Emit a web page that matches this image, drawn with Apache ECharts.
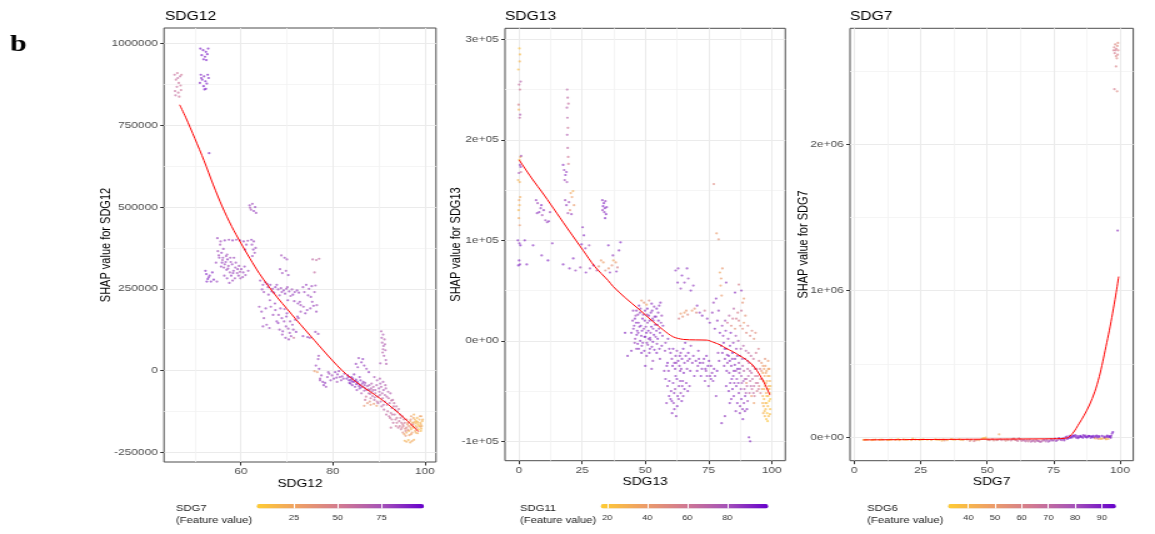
<!DOCTYPE html>
<html><head><meta charset="utf-8">
<script src="https://cdn.jsdelivr.net/npm/echarts@6/dist/echarts.min.js"></script>
<style>
html,body{margin:0;padding:0;background:#fff;overflow:hidden;width:1155px;height:534px}
#c{width:924px;height:534px;transform:scaleX(1.25);transform-origin:0 0}
</style>
</head><body><div id="c"></div>
<script>
// ---------------- DATA ----------------
// Panel 1: [SDG12, SHAP value for SDG12, SDG7 (feature value)]
const sdg12Points = [
[45.6,905000,58],[46.2,910000,55],[46.8,900000,60],[45.9,890000,57],[46.5,880000,56],[46.1,868000,59],[46.9,872000,54],[45.7,855000,58],[46.4,850000,57],[47.0,858000,55],[45.8,842000,60],[46.6,838000,56],[46.3,895000,62],[47.1,905000,53],
[51.2,985000,92],[51.8,980000,90],[52.4,975000,93],[52.9,985000,91],[51.5,965000,94],[52.2,960000,89],[52.7,968000,92],[51.9,952000,90],[52.5,950000,93],[51.3,905000,91],[52.0,900000,88],[52.8,905000,92],[51.6,890000,90],[52.3,885000,94],[51.1,880000,89],[52.6,878000,91],[51.9,870000,93],[52.4,862000,90],[52.1,860000,92],[51.4,895000,87],[53.0,895000,90],
[53.1,665000,88],
[61.9,505000,80],[62.5,510000,78],[63.1,500000,82],[62.2,492000,76],[62.8,488000,84],[63.3,482000,79],[62.0,498000,75],
[52.3,305000,88],[52.5,295000,90],[53.2,290000,86],[53.8,300000,89],[52.8,280000,91],[53.5,272000,87],[52.6,272000,90],[54.1,278000,88],[53.0,285000,85],
[54.9,405000,80],[55.6,395000,78],[56.5,398000,82],[57.4,400000,79],[58.2,398000,83],[59.0,400000,77],[59.8,398000,81],[60.6,395000,80],[61.5,397000,78],[62.3,400000,82],[62.8,395000,79],
[55.5,385000,76],[56.2,372000,80],[55.8,360000,82],[56.8,350000,78],[55.3,345000,81],[56.0,338000,75],[57.1,340000,83],[57.8,332000,79],[56.5,325000,80],[57.3,320000,77],[58.1,325000,82],[58.8,315000,79],[56.9,308000,81],[57.6,300000,76],[58.4,305000,80],[59.2,298000,78],[57.9,290000,83],[58.7,282000,77],[59.5,290000,81],[58.2,275000,79],[60.1,310000,80],[60.8,318000,82],[59.6,320000,78],[55.9,330000,84],[57.0,355000,76],[58.5,345000,80],[59.8,302000,74],[60.4,286000,79],[57.5,268000,81],[56.3,315000,77],
[54.6,330000,80],[55.2,352000,78],[55.7,318000,82],[56.1,345000,79],[56.7,332000,81],[57.2,312000,80],[57.7,345000,78],[58.3,298000,82],[58.9,330000,79],[59.3,310000,80],[59.9,282000,77],[60.5,300000,81],[61.0,292000,79],[56.4,290000,80],[57.0,282000,83],[55.0,365000,76],[61.2,385000,80],[60.9,370000,82],[54.8,272000,80],[61.6,305000,78],
[62.4,385000,80],[62.7,370000,83],[63.0,360000,78],[62.5,350000,81],[63.2,375000,79],
[64.2,275000,80],[64.8,262000,78],[65.3,270000,82],[65.9,255000,79],[66.4,262000,81],[66.9,250000,77],[67.5,255000,83],[68.1,248000,80],[68.7,252000,78],[69.3,245000,82],[69.9,250000,79],[70.5,242000,81],[71.1,248000,77],[71.7,240000,80],[72.2,245000,83],[65.0,240000,78],[66.0,232000,80],[67.2,238000,82],[68.4,230000,79],[69.6,235000,81],[70.8,228000,77],[71.6,212000,80],[72.4,205000,82],[73.0,200000,78],[70.2,215000,84],[69.0,298000,80],[69.8,305000,78],[70.3,292000,82],[68.5,310000,79],
[64.6,248000,80],[65.7,265000,82],[66.7,242000,79],[67.8,262000,81],[68.9,240000,80],[70.1,255000,78],[71.3,232000,82],[72.6,238000,80],[66.3,215000,79],[67.4,205000,81],[68.6,190000,80],[69.9,165000,82],[70.7,150000,78],[71.4,125000,80],[72.0,118000,83],[67.0,170000,80],[68.4,125000,79],[69.7,100000,81],[70.4,95000,80],[73.8,240000,79],[74.6,230000,81],[75.2,225000,80],[76.2,260000,78],
[69.5,345000,80],[70.0,340000,78],[68.8,352000,76],
[73.5,255000,80],[74.2,262000,82],[74.8,250000,79],[75.4,258000,81],[76.0,240000,78],[72.8,210000,80],[73.6,195000,77],[74.4,185000,82],[75.1,190000,79],[75.8,198000,81],[76.4,180000,80],[73.0,180000,78],[74.0,175000,83],[75.5,210000,80],[76.5,200000,76],[73.5,105000,82],[74.5,102000,80],[75.0,100000,78],[76.2,118000,81],[76.8,112000,79],
[75.6,340000,62],[76.4,338000,60],[77.0,342000,63],[76.0,300000,60],
[66.5,195000,80],[67.5,185000,82],[68.2,170000,78],[68.9,160000,81],[69.4,150000,79],[68.1,145000,83],[69.8,135000,80],[70.3,128000,77],[69.1,120000,82],[70.6,115000,79],[71.2,140000,81],[71.8,155000,78],[72.3,165000,80],[70.0,175000,83],[69.0,110000,80],[70.9,105000,78],[71.5,100000,55],[72.5,160000,80],[67.8,150000,82],[69.5,188000,76],
[64.0,195000,78],[64.5,180000,80],[65.4,190000,82],[64.8,135000,80],[65.6,140000,79],[66.2,130000,81],[65.0,160000,77],
[76.0,-2000,30],[76.6,-5000,28],[76.3,15000,80],[77.0,5000,82],[77.5,-15000,80],[77.2,-25000,78],[78.0,-45000,82],[78.5,-50000,79],[77.8,-35000,81],[79.2,-10000,80],[79.8,-15000,78],[80.5,-5000,82],[81.0,-12000,80],[81.5,-20000,79],[80.2,-25000,81],[82.0,-18000,80],[82.5,-10000,78],[79.5,-30000,83],[78.8,-20000,80],[76.8,35000,80],[76.9,45000,78],[81.8,-30000,80],[80.9,-35000,76],
[77.2,-30000,80],[78.3,-38000,82],[79.0,-5000,79],[80.8,-22000,81],[81.3,-2000,80],[82.3,-25000,78],
[85.0,20000,82],[85.6,38000,80],[86.2,25000,83],[86.8,15000,81],[87.3,5000,79],[85.4,10000,80],[87.8,-5000,82],[86.5,35000,85],
[83.0,-25000,85],[83.5,-30000,88],[84.0,-20000,86],[84.5,-35000,90],[85.0,-28000,87],[85.5,-40000,84],[86.0,-45000,80],[86.5,-50000,75],[87.0,-55000,70],[87.5,-48000,72],[88.0,-60000,68],[88.5,-65000,70],[83.8,-40000,86],[84.8,-50000,82],[85.8,-55000,78],[86.8,-62000,72],[87.8,-70000,65],[88.6,-78000,62],[86.2,-70000,70],[87.2,-80000,55],[88.2,-85000,60],[89.0,-90000,64],[85.2,-60000,80],[84.2,-45000,84],[88.8,-50000,66],[87.0,-38000,78],[86.0,-30000,82],[87.5,-100000,35],[88.2,-105000,30],[88.9,-102000,32],[89.5,-108000,28],[86.8,-108000,33],[83.2,-15000,88],[84.6,-12000,85],[85.8,-20000,82],[88.4,-40000,70],[89.2,-70000,62],[89.8,-80000,60],
[83.4,-20000,86],[83.9,-28000,88],[84.3,-24000,85],[84.9,-32000,87],[85.3,-35000,84],[85.7,-48000,82],[86.1,-52000,78],[86.4,-40000,80],[86.9,-45000,76],[87.3,-60000,72],[87.7,-58000,70],[88.1,-72000,66],[88.7,-60000,64],[85.1,-42000,86],[84.1,-33000,88],[83.6,-38000,87],[86.6,-35000,82],[87.9,-45000,74],[88.3,-55000,68],[89.1,-82000,62],[89.6,-95000,60],[88.0,-95000,40],[87.0,-90000,58],
[89.0,-20000,75],[89.6,-30000,72],[90.2,-25000,70],[90.9,-35000,72],[91.4,-45000,68],
[90.5,120000,70],[90.9,110000,72],[91.2,95000,68],[90.7,85000,70],[91.0,75000,73],[91.4,62000,70],[90.8,55000,67],[91.1,45000,71],[90.3,22000,74],[91.6,20000,70],
[90.6,100000,72],[91.3,80000,70],[90.9,65000,68],[91.5,32000,72],
[89.5,-45000,70],[90.0,-55000,72],[90.5,-50000,68],[91.0,-60000,74],[91.5,-55000,70],[92.0,-65000,66],[92.5,-70000,70],[90.2,-75000,68],[90.8,-85000,64],[91.3,-95000,66],[91.8,-105000,62],[92.3,-100000,68],[92.8,-115000,64],[93.2,-110000,60],[89.8,-100000,66],[90.6,-110000,62],[91.1,-120000,64],[91.9,-125000,60],[92.6,-130000,58],[93.0,-90000,62],[89.2,-60000,72],[90.3,-40000,74],
[90.1,-65000,70],[90.7,-70000,68],[91.3,-75000,66],[91.7,-80000,68],[92.1,-85000,64],[92.7,-92000,62],[93.3,-100000,60],[93.8,-110000,58],[94.3,-118000,60],[94.7,-145000,56],[95.2,-165000,52],[93.6,-150000,58],[92.9,-135000,60],[93.9,-160000,56],[94.5,-170000,54],[95.0,-175000,50],[91.6,-135000,62],[92.4,-145000,58],[90.4,-95000,66],[91.0,-105000,64],
[92.2,-140000,60],[92.8,-150000,58],[93.4,-135000,62],[93.9,-145000,56],[94.4,-155000,58],[94.9,-160000,54],[95.4,-150000,56],[93.1,-160000,60],[93.7,-170000,55],[94.2,-175000,57],[94.8,-180000,52],[95.3,-170000,50],[95.8,-185000,48],[93.5,-120000,62],[94.0,-125000,60],[94.6,-135000,58],[95.1,-140000,55],[95.6,-160000,52],[92.6,-175000,58],[96.0,-175000,46],
[95.5,-195000,25],[96.0,-190000,22],[96.5,-185000,18],[97.0,-180000,20],[97.5,-175000,15],[98.0,-170000,18],[98.5,-165000,12],[99.0,-160000,15],[99.3,-170000,20],[96.2,-165000,30],[96.8,-155000,25],[97.3,-160000,22],[97.8,-150000,18],[98.3,-145000,15],[98.8,-150000,20],[99.2,-140000,25],[97.0,-140000,28],[97.6,-135000,20],[98.1,-155000,12],[98.6,-180000,10],[99.1,-185000,14],[96.5,-170000,35],[97.2,-190000,30],[97.9,-185000,24],[95.2,-190000,40],[95.8,-200000,35],[96.6,-198000,28],[98.4,-192000,22],[99.4,-155000,18],[96.0,-150000,40],[97.4,-165000,45],[98.2,-175000,38],[99.0,-172000,30],[95.7,-178000,42],
[96.3,-160000,35],[96.9,-175000,25],[97.1,-168000,30],[97.7,-158000,22],[98.0,-162000,15],[98.4,-158000,18],[98.7,-170000,12],[99.1,-165000,22],[99.5,-150000,20],[97.5,-145000,25],[98.9,-140000,28],[96.3,-182000,38],[97.0,-195000,28],[98.0,-190000,20],[99.2,-178000,16],[96.9,-150000,40],
[95.6,-215000,18],[96.0,-218000,22],[96.4,-213000,15],[96.8,-220000,20],[97.2,-216000,25],[97.6,-212000,18]
];
const sdg12Smooth = [[46.7,813000],[48,775000],[50,710000],[52,642000],[54,568000],[56,500000],[58,441000],[60,390000],[62,342000],[64,297000],[66,258000],[68,222000],[70,189000],[72,156000],[74,124000],[76,92000],[78,60000],[80,29000],[82,0],[84,-24000],[86,-45000],[88,-64000],[90,-83000],[92,-104000],[94,-127000],[96,-152000],[98.6,-187000]];

// Panel 2: [SDG13, SHAP value for SDG13, SDG11 (feature value)]
const sdg13Points = [
[0.2,291000,22],[0.4,285000,25],[0.3,278000,28],[-0.2,270000,24],[0.1,255000,65],[0.7,258000,72],[0.4,250000,60],[-0.1,235000,55],[0.0,230000,30],[0.5,225000,75],[0.3,222000,68],[0.6,183000,35],[0.9,184000,80],[0.2,180000,25],[0.4,175000,85],[0.7,173000,88],[0.0,167000,80],[0.8,168000,60],[-0.3,160000,28],[0.3,158000,30],[0.5,143000,32],[0.1,140000,35],[0.2,135000,30],[-0.1,130000,27],[0.0,122000,33],[0.3,115000,40],[-0.4,100000,90],[0.2,97000,88],[0.6,95000,92],[0.1,80000,90],[0.4,76000,88],[-0.2,75000,93],
[2.3,100000,90],
[6.8,140000,85],[7.4,137000,82],[8.0,128000,88],[8.6,132000,84],[7.2,127000,86],[9.2,125000,80],[9.8,130000,87],[10.5,120000,83],[11.2,118000,85],[11.8,119000,88],[8.9,135000,90],[12.3,128000,82],
[3.1,76000,90],[9.0,85000,88],[11.5,80000,92],[13.2,97000,88],[5.6,95000,90],
[19.1,250000,70],[19.3,242000,68],[19.0,232000,72],[19.6,236000,65],[19.2,222000,70],[19.4,212000,62],[19.1,205000,75],[19.3,192000,68],[19.5,183000,60],[19.6,176000,55],[17.5,175000,88],[17.9,170000,85],[18.4,165000,90],[18.8,168000,87],[18.1,160000,82],[19.0,158000,80],
[18.3,140000,82],[18.8,135000,85],[19.8,138000,80],[20.5,147000,35],[21.4,149000,30],[21.0,143000,38],[19.4,127000,78],[20.2,130000,45],[21.8,135000,40],[20.8,126000,85],
[25.2,113000,88],[25.7,105000,90],[24.8,96000,92],[26.3,92000,85],[27.8,95000,80],
[33.0,140000,88],[33.6,137000,90],[34.2,139000,86],[33.3,134000,92],[34.0,132000,89],[33.8,128000,87],[34.5,126000,90],[33.1,130000,85],[34.7,133000,88],[34.1,122000,91],
[17.5,76000,90],[20.0,72000,88],[22.4,70000,85],[24.3,73000,82],[26.5,68000,88],[28.1,72000,80],[29.5,75000,85],[30.8,70000,75],[31.6,74000,45],[32.5,80000,40],[33.4,78000,38],[34.2,70000,50],[35.5,72000,42],[36.8,75000,45],[37.4,80000,35],[38.3,78000,40],[39.0,73000,55],[36.0,68000,85],[38.6,69000,88],[21.5,82000,90],[40.2,98000,92],[39.6,90000,88],[37.2,85000,86],[35.4,95000,90],
[45.0,20000,85],[45.6,15000,88],[46.2,25000,82],[46.8,10000,90],[47.3,18000,86],[47.9,28000,84],[48.4,5000,88],[48.9,22000,91],[49.4,12000,85],[49.9,30000,87],[50.4,8000,90],[50.9,18000,83],[51.4,25000,88],[51.9,3000,86],[52.4,14000,92],[52.9,22000,84],[53.4,6000,89],[53.9,16000,85],[54.4,10000,88],[54.9,2000,90],[55.4,12000,86],[46.0,2000,84],[47.0,-3000,88],[48.0,0,90],[49.0,-2000,86],[50.0,4000,92],[51.0,-4000,85],[52.0,1000,88],[53.0,-1000,90],[46.5,30000,86],[47.5,35000,88],[48.5,40000,40],[49.5,38000,45],[50.5,36000,35],[51.5,40000,50],[52.5,37000,88],[53.5,34000,85],[54.5,32000,90],[55.5,35000,86],[56.0,38000,88],[56.5,25000,84],[57.0,15000,89],[44.5,8000,88],[45.2,30000,85],[48.2,15000,92],[49.8,20000,88],[50.7,26000,84],[51.2,10000,91],[52.2,28000,87],[53.2,20000,83],[54.2,24000,88],[55.2,20000,90],[47.2,8000,86],[46.4,18000,90],[45.8,-2000,84],[43.0,-15000,88],[42.0,8000,90],
[45.3,12000,86],[45.9,22000,88],[46.6,6000,90],[47.1,26000,85],[47.7,14000,88],[48.1,32000,84],[48.7,10000,90],[49.2,26000,86],[49.7,4000,88],[50.2,14000,85],[50.8,32000,90],[51.3,2000,86],[51.7,20000,88],[52.1,8000,84],[52.7,30000,90],[53.1,12000,86],[53.7,24000,88],[54.1,4000,85],[54.7,16000,90],[55.1,28000,86],[55.8,8000,88],[56.2,18000,84],[47.4,-8000,88],[48.6,-5000,86],[49.6,-10000,90],[50.6,-2000,85],[51.6,-12000,88],[52.6,-6000,86],[53.6,-9000,90],[54.6,-3000,85],[55.6,-8000,88],[56.8,5000,86],
[44.5,-10000,88],[46.5,-8000,85],[48.5,-12000,90],[50.5,-15000,86],[51.8,-8000,88],[53.0,-20000,84],[54.5,-12000,90],[55.8,-18000,86],[56.5,-5000,88],[57.8,-10000,85],[58.8,-22000,90],[59.5,-8000,87],[50.0,-25000,89],[52.5,-28000,85],
[60.0,-12000,88],[60.5,-18000,85],[61.0,-8000,90],[61.5,-22000,86],[62.0,-15000,88],[62.5,-10000,84],[63.0,-20000,90],[63.5,-25000,87],[64.0,-12000,85],[64.5,-18000,88],[65.0,-8000,91],[65.5,-22000,86],[66.0,-15000,88],[66.5,-28000,84],[67.0,-12000,90],[67.5,-18000,87],[68.0,-5000,85],[61.8,-28000,88],[63.8,-30000,86],[65.8,-2000,90],[59.0,2000,88],[58.0,-2000,85],
[58.5,-25000,88],[59.2,-30000,86],[60.8,-25000,90],[62.2,-22000,85],[63.6,-15000,88],[64.2,-28000,86],[65.2,-32000,90],[66.8,-20000,85],[67.8,-30000,88],[68.6,-22000,86],[69.4,-35000,90],[61.4,-52000,86],[62.8,-55000,88],[63.8,-40000,85],[64.4,-60000,90],[65.0,-55000,86],[66.8,-50000,88],[67.5,-45000,85],[59.4,-55000,88],[58.4,-62000,86],[61.5,-68000,88],[62.6,-65000,90],[63.2,-58000,85],[64.6,-45000,86],[60.6,-72000,88],[62.2,-75000,86],
[62.0,70000,88],[63.0,72000,86],[64.5,65000,90],[65.5,58000,85],[66.5,72000,88],[67.0,62000,84],[68.0,50000,90],[69.0,55000,86],[62.8,58000,88],[64.0,52000,85],
[64.0,27000,40],[64.8,24000,45],[65.5,28000,38],[66.2,30000,42],[66.8,26000,50],[63.3,22000,55],
[58.0,-38000,88],[58.8,-45000,85],[59.5,-40000,90],[60.2,-50000,86],[61.0,-42000,88],[61.8,-48000,84],[62.5,-38000,90],[63.3,-45000,87],[64.0,-52000,85],[64.8,-40000,88],[65.5,-48000,90],[66.2,-42000,86],[60.5,-60000,88],[61.2,-62000,85],[60.0,-58000,90],[57.5,-30000,86],[62.0,-35000,88],
[70.0,-20000,88],[70.8,-25000,85],[71.6,-22000,90],[72.4,-28000,86],[73.2,-18000,88],[74.0,-30000,84],[74.8,-25000,90],[75.6,-35000,87],[76.4,-32000,85],[77.2,-28000,88],[73.6,-40000,86],[76.0,-38000,89],[71.0,-10000,88],[69.0,-15000,86],
[70.5,-30000,88],[71.2,-18000,86],[72.0,-35000,90],[72.8,-22000,85],[73.8,-28000,88],[74.4,-35000,86],[75.2,-20000,90],[76.0,-25000,85],[76.8,-40000,88],[77.6,-35000,86],[78.4,-30000,90],[78.8,-12000,85],[79.2,-20000,88],[75.0,-45000,86],[74.2,-15000,88],[78.0,-55000,86],
[70.5,35000,88],[71.5,28000,85],[72.5,25000,90],[73.5,30000,60],[74.5,22000,86],[75.5,18000,88],[76.5,28000,85],[77.5,12000,90],[78.5,20000,86],[79.5,8000,88],[77.0,38000,84],[78.0,42000,88],[68.5,30000,40],[69.5,32000,45],[70.2,28000,50],[79.0,30000,85],
[79.5,68000,35],[80.0,62000,40],[79.8,55000,38],[78.2,107000,40],[79.0,101000,45],[77.1,156000,50],[80.5,72000,42],[80.2,45000,40],
[87.0,56000,55],[88.5,38000,45],[89.0,42000,40],[88.0,50000,85],[85.5,48000,88],[82.0,58000,86],
[80.4,15000,85],[81.6,20000,80],[83.2,25000,70],[84.6,22000,60],[86.6,28000,55],[87.6,15000,50],[89.6,25000,45],[90.6,15000,55],[92.2,10000,50],[93.6,8000,48],[88.0,30000,62],[85.0,32000,70],
[80.0,-5000,88],[80.5,-12000,86],[81.0,-2000,90],[81.5,-18000,85],[82.0,-8000,88],[82.5,-22000,84],[83.0,-15000,90],[83.5,-5000,87],[84.0,-25000,85],[84.5,-12000,89],[85.0,-30000,86],[85.5,-18000,88],[86.0,-8000,84],[86.5,-28000,90],[87.0,-22000,82],[87.5,-15000,78],[88.0,-35000,80],[88.5,-25000,75],[89.0,-30000,72],[89.5,-18000,70],[90.0,-38000,74],[90.5,-28000,68],[91.0,-22000,70],[91.5,-40000,66],[92.0,-32000,68],[92.5,-25000,64],[93.0,-45000,66],[93.5,-35000,62],[94.0,-28000,60],[94.5,-42000,62],[95.0,-20000,55],[95.5,-38000,50],[96.0,-30000,45],
[81.2,-25000,86],[82.2,-30000,88],[83.2,-32000,85],[84.2,-38000,90],[85.2,-42000,86],[86.2,-38000,84],[87.2,-32000,82],[88.2,-42000,78],[89.2,-48000,74],[90.2,-45000,70],[91.2,-52000,66],[92.2,-48000,64],[93.2,-55000,62],[94.2,-50000,58],
[81.4,-8000,88],[82.4,-14000,86],[83.4,-20000,90],[84.4,-18000,85],[85.4,-24000,88],[86.4,-15000,86],[87.4,-28000,84],[88.4,-18000,80],[89.4,-38000,76],[90.4,-20000,72],[91.4,-30000,70],[92.4,-38000,68],[93.4,-28000,66],[94.4,-35000,62],[95.4,-28000,58],[96.2,-38000,50],
[83.6,-42000,88],[84.8,-35000,86],[85.8,-30000,84],[86.8,-42000,86],[87.8,-48000,82],[88.8,-40000,80],[89.8,-52000,76],[90.8,-35000,72],[91.8,-45000,70],[92.8,-52000,66],[93.8,-42000,64],[94.8,-48000,60],[95.6,-52000,55],[95.0,-45000,52],
[82.0,-45000,88],[83.0,-50000,90],[84.0,-58000,86],[86.4,-62000,88],[87.4,-72000,85],[88.6,-78000,90],[89.4,-70000,86],[90.2,-68000,88],[85.8,-70000,86],[83.4,-62000,88],
[80.8,5000,86],[81.8,10000,88],[82.8,2000,84],[83.8,8000,90],[84.8,-2000,86],[85.8,5000,80],[86.8,0,78],[87.8,-8000,76],[88.8,-5000,72],[89.8,-10000,70],[90.8,-12000,68],[91.8,-15000,66],[92.8,-18000,62],[93.8,-12000,60],[94.8,-8000,55],
[82.5,18000,60],[84.0,15000,50],[85.5,12000,45],[87.0,20000,55],[88.5,12000,48],[90.0,8000,50],[91.5,5000,52],[93.0,2000,45],[89.0,18000,40],[86.0,22000,58],
[86.0,-45000,88],[87.0,-52000,86],[88.0,-58000,90],[89.0,-62000,85],[85.0,-55000,88],[87.5,-65000,84],[88.5,-68000,86],[89.5,-55000,88],[90.5,-60000,82],[84.5,-48000,90],
[91.0,-96000,88],[91.5,-100000,90],[80.2,-82000,88],[81.5,-75000,85],[90.0,-42000,45],[92.0,-55000,40],[93.0,-62000,38],
[96.5,-32000,35],[97.0,-28000,38],[97.5,-25000,40],[98.0,-30000,35],[98.5,-35000,32],[99.0,-28000,38],[99.3,-40000,30],[96.8,-40000,32],[97.3,-45000,35],[97.8,-42000,28],[98.3,-48000,30],[98.8,-45000,32],[99.2,-52000,28],[96.5,-55000,30],[97.0,-58000,25],[97.5,-62000,28],[98.0,-55000,22],[98.5,-65000,25],[99.0,-60000,20],[99.4,-68000,22],[97.2,-70000,25],[98.2,-72000,20],[98.8,-75000,24],[96.8,-65000,28],[97.8,-52000,30],[99.5,-45000,26],[96.2,-48000,36],[96.0,-22000,42],[97.4,-18000,45],[98.6,-20000,40],
[96.6,-25000,40],[97.2,-35000,35],[97.7,-32000,38],[98.2,-40000,32],[98.7,-28000,36],[99.1,-35000,30],[96.4,-62000,28],[97.0,-48000,30],[97.6,-68000,24],[98.1,-62000,22],[98.6,-55000,26],[99.1,-48000,24],[99.4,-58000,20],[97.9,-78000,22],[98.4,-80000,20],[97.3,-75000,26],[96.7,-72000,30],[99.3,-73000,24]
];
const sdg13Smooth = [[0.1,180000],[5,162000],[10,145000],[15,127000],[20,109000],[25.4,90000],[30,74000],[35.3,60000],[37.3,54000],[42,43000],[47.9,30500],[53.1,19000],[57,11000],[61,4000],[65,1400],[70,900],[74.3,700],[77,-1500],[79.6,-4000],[82,-7500],[84.8,-11000],[87.5,-15000],[90.1,-19000],[92.8,-25000],[95.3,-34000],[97.5,-44000],[99.3,-54000]];

// Panel 3: [SDG7, SHAP value for SDG7, SDG6 (feature value)]
const sdg7Points = [
[97.8,2660000,60],[98.2,2680000,58],[98.6,2650000,62],[99.0,2670000,57],[99.3,2640000,60],[98.0,2620000,63],[98.5,2600000,59],[99.1,2610000,61],[98.8,2585000,58],[97.6,2640000,62],[98.3,2640000,64],[99.2,2690000,56],[98.5,2530000,60],[97.9,2375000,62],[98.9,2360000,58],[99.1,1410000,85],
[3.5,-18000,38],[5.0,-17000,40],[6.5,-19000,36],[8.0,-16000,42],[9.5,-18000,38],[11.0,-17000,45],[12.5,-19000,40],[14.0,-16000,37],[15.5,-18000,43],[17.0,-20000,39],[18.5,-15000,41],[20.0,-17000,36],[21.5,-19000,44],[23.0,-16000,38],[24.5,-18000,42],[26.0,-14000,40],[27.5,-17000,37],[29.0,-19000,45],[30.5,-15000,39],[32.0,-18000,41],[33.5,-16000,36],[35.0,-20000,43],[36.5,-13000,38],[38.0,-17000,42],[39.5,-15000,40],[41.0,-19000,47],[42.5,-16000,52],[44.0,-18000,50],[45.5,-22000,55],[47.0,-20000,48],[48.5,-5000,35],[49.0,-8000,38],[49.5,-3000,40],[48.0,-12000,42],[16.5,-12000,36],[22.0,-10000,40],[33.0,-24000,45],[34.0,-22000,55],[43.5,-25000,60],[45.0,-26000,62],
[4.2,-17500,40],[7.2,-18500,38],[10.2,-16500,42],[13.2,-18000,36],[19.2,-17000,40],[25.2,-16000,38],[31.2,-17000,42],[37.2,-16000,40],[40.2,-18000,44],[46.2,-19000,52],
[50.5,-18000,58],[52.0,-15000,62],[53.5,-20000,60],[54.5,20000,45],[55.0,-14000,65],[56.5,-17000,63],[58.0,-19000,60],[59.5,-15000,66],[61.0,-20000,64],[62.5,-16000,68],[63.0,-25000,70],[64.0,-22000,72],[65.5,-28000,66],[66.0,-18000,70],[67.0,-25000,74],[68.0,-30000,72],[68.5,-20000,68],[69.5,-27000,75],[70.0,-32000,73],[71.0,-22000,70],[72.0,-28000,76],[72.5,-18000,78],[73.5,-25000,80],[74.0,-15000,82],[75.0,-22000,78],[75.5,-10000,85],[76.5,-18000,80],[77.0,-5000,88],[78.0,-20000,82],[78.5,-8000,86],[79.0,-15000,84],[79.5,0,88],[60.0,-10000,62],[57.0,-24000,58],[62.0,-8000,66],
[50.0,-16000,55],[51.0,-20000,60],[52.5,-22000,58],[54.0,-18000,62],[55.5,-20000,64],[57.5,-16000,60],[59.0,-22000,66],[60.5,-18000,62],[61.5,-25000,68],[63.5,-18000,70],[64.5,-28000,72],[65.0,-20000,68],[66.5,-30000,74],[67.5,-22000,72],[69.0,-25000,76],[70.5,-28000,75],[71.5,-18000,78],[73.0,-30000,80],[74.5,-22000,82],[76.0,-25000,84],[77.5,-15000,86],[79.0,-22000,85],
[80.0,5000,88],[80.5,-5000,90],[81.0,10000,86],[81.5,2000,92],[82.0,-2000,88],[82.5,12000,90],[83.0,5000,93],[83.5,-3000,87],[84.0,8000,91],[84.5,0,89],[85.0,10000,92],[85.5,3000,88],[86.0,-4000,90],[86.5,6000,93],[87.0,12000,87],[87.5,-2000,91],[88.0,4000,89],[88.5,8000,92],[89.0,-5000,88],[89.5,2000,90],[90.0,10000,93],[90.5,0,87],[91.0,6000,91],[91.5,-3000,89],[92.0,8000,92],[92.5,-10000,45],[93.0,-12000,40],[93.5,-8000,42],[94.0,4000,90],[94.5,-2000,88],[95.0,6000,92],[95.5,0,90],[96.0,8000,91],[96.5,-4000,88],[97.0,25000,90],[97.3,35000,92],[91.8,-12000,50],[94.8,-14000,44],
[80.2,-12000,88],[81.2,-5000,90],[82.2,8000,92],[83.2,14000,88],[84.2,-6000,90],[85.2,4000,92],[86.2,14000,88],[87.2,2000,91],[88.2,10000,90],[89.2,6000,92],[90.2,-2000,88],[91.2,12000,90],[92.2,2000,89],[93.2,10000,92],[94.2,-4000,88],[95.2,12000,90],[96.2,2000,92],[96.7,10000,88],[90.7,-8000,45],[94.6,-10000,40],[95.6,-12000,42]
];
const sdg7Smooth = [[3.4,-18000],[20,-16000],[40,-14000],[60,-12000],[75,-10000],[80,-5000],[82.2,27000],[84.7,96000],[86.5,150000],[88.5,220000],[90.5,310000],[92.2,414000],[93.5,515000],[94.7,618000],[96,730000],[97.2,846000],[98.4,970000],[99.5,1096000]];

// Axis ticks
const sdg12XTicks = [60, 80, 100];
const sdg12XMinor = [50, 70, 90];
const sdg12YTicks = [-250000, 0, 250000, 500000, 750000, 1000000];
const sdg12YMinor = [-125000, 125000, 375000, 625000, 875000];
const sdg13XTicks = [0, 25, 50, 75, 100];
const sdg13XMinor = [12.5, 37.5, 62.5, 87.5];
const sdg13YTicks = [-100000, 0, 100000, 200000, 300000];
const sdg13YMinor = [-50000, 50000, 150000, 250000];
const sdg7XTicks = [0, 25, 50, 75, 100];
const sdg7XMinor = [12.5, 37.5, 62.5, 87.5];
const sdg7YTicks = [0, 1000000, 2000000];
const sdg7YMinor = [500000, 1500000, 2500000];

// Colour (feature value) ranges and legend ticks
const sdg7FeatureRange = [3.7, 99.3];
const sdg7LegendTicks = [25, 50, 75];
const sdg11FeatureRange = [16.7, 100.5];
const sdg11LegendTicks = [20, 40, 60, 80];
const sdg6FeatureRange = [32.4, 95.3];
const sdg6LegendTicks = [40, 50, 60, 70, 80, 90];

// ---------------- CHART ----------------
const S = 1.25;               // horizontal stretch of the reference
const X = v => v / S;         // reference x pixel -> css pixel
const FONT = '"Liberation Sans", Arial, sans-serif';
const COLORS = ['#FFCC33', '#EE9F66', '#D27A92', '#A653B8', '#6600CC'];
const plainFmt = v => String(Math.round(v));
const sciFmt = v => {
  if (v === 0) return '0e+00';
  const e = Math.floor(Math.log10(Math.abs(v)));
  const m = Math.round(v / Math.pow(10, e));
  return m + 'e+' + String(e).padStart(2, '0');
};

const panels = [
  {title:'SDG12', xName:'SDG12', yName:'SHAP value for SDG12', legend:'SDG7\n(Feature value)',
   pts:sdg12Points, smooth:sdg12Smooth, xRange:[43.3,102.4], yRange:[-280000,1048000],
   xT:sdg12XTicks, xM:sdg12XMinor, yT:sdg12YTicks, yM:sdg12YMinor, yFmt:plainFmt,
   cR:sdg7FeatureRange, cT:sdg7LegendTicks,
   box:{l:164,r:436,t:28,b:462}, yGap:40.5, titleX:165, legX:176, cb:{l:256.7,r:424}},
  {title:'SDG13', xName:'SDG13', yName:'SHAP value for SDG13', legend:'SDG11\n(Feature value)',
   pts:sdg13Points, smooth:sdg13Smooth, xRange:[-5.5,105.4], yRange:[-119300,311000],
   xT:sdg13XTicks, xM:sdg13XMinor, yT:sdg13YTicks, yM:sdg13YMinor, yFmt:sciFmt,
   cR:sdg11FeatureRange, cT:sdg11LegendTicks,
   box:{l:505,r:785.3,t:28.3,b:460.7}, yGap:34, titleX:505, legX:520, cb:{l:600.7,r:768.3}},
  {title:'SDG7', xName:'SDG7', yName:'SHAP value for SDG7', legend:'SDG6\n(Feature value)',
   pts:sdg7Points, smooth:sdg7Smooth, xRange:[-1.6,105], yRange:[-160000,2790000],
   xT:sdg7XTicks, xM:sdg7XMinor, yT:sdg7YTicks, yM:sdg7YMinor, yFmt:sciFmt,
   cR:sdg6FeatureRange, cT:sdg6LegendTicks,
   box:{l:850,r:1133.3,t:28.3,b:460.7}, yGap:31.5, titleX:850, legX:867.3, cb:{l:948,r:1116}}
];

const option = {
  animation:false, backgroundColor:'#fff', textStyle:{fontFamily:FONT},
  title:[], grid:[], xAxis:[], yAxis:[], series:[], visualMap:[]
};
option.title.push({text:'b', left:X(10), top:33, padding:0,
  textStyle:{fontFamily:'"Liberation Serif","DejaVu Serif",serif', fontWeight:'bold', fontSize:24, color:'#000'}});

panels.forEach((p, i) => {
  option.title.push({text:p.title, left:X(p.titleX), top:10, padding:0,
    textStyle:{fontFamily:FONT, fontSize:12.5, fontWeight:'normal', color:'#000'}});
  option.title.push({text:p.legend, left:X(p.legX), top:503, padding:0,
    textStyle:{fontFamily:FONT, fontSize:9, lineHeight:12, fontWeight:'normal', color:'#222'}});
  option.grid.push({left:X(p.box.l), top:p.box.t, width:X(p.box.r - p.box.l), height:p.box.b - p.box.t,
    show:true, backgroundColor:'#fff', borderColor:'#4d4d4d', borderWidth:1});
  // major x
  option.xAxis.push({type:'value', gridIndex:i, min:p.xRange[0], max:p.xRange[1], position:'bottom',
    name:p.xName, nameLocation:'middle', nameGap:16, nameMoveOverlap:false,
    nameTextStyle:{fontFamily:FONT, fontSize:11, color:'#000'},
    axisLine:{show:false, onZero:false},
    axisTick:{show:true, length:3.5, customValues:p.xT, lineStyle:{color:'#333'}},
    axisLabel:{customValues:p.xT, fontSize:9.5, color:'#4D4D4D', margin:4.5, fontFamily:FONT},
    splitLine:{show:true, lineStyle:{color:'#EBEBEB', width:1}}});
  // minor x
  option.xAxis.push({type:'value', gridIndex:i, min:p.xRange[0], max:p.xRange[1], position:'bottom',
    axisLine:{show:false, onZero:false}, axisTick:{show:false, customValues:p.xM}, axisLabel:{show:false, customValues:p.xM},
    splitLine:{show:true, lineStyle:{color:'#F3F3F3', width:0.8}}});
  // major y
  option.yAxis.push({type:'value', gridIndex:i, min:p.yRange[0], max:p.yRange[1], position:'left',
    name:p.yName, nameLocation:'middle', nameGap:p.yGap, nameMoveOverlap:false,
    nameTextStyle:{fontFamily:FONT, fontSize:11, color:'#000'},
    axisLine:{show:false, onZero:false},
    axisTick:{show:true, length:3, customValues:p.yT, lineStyle:{color:'#333'}},
    axisLabel:{customValues:p.yT, fontSize:9.5, color:'#4D4D4D', margin:5, formatter:p.yFmt, fontFamily:FONT},
    splitLine:{show:true, lineStyle:{color:'#EBEBEB', width:1}}});
  // minor y
  option.yAxis.push({type:'value', gridIndex:i, min:p.yRange[0], max:p.yRange[1], position:'left',
    axisLine:{show:false, onZero:false}, axisTick:{show:false, customValues:p.yM}, axisLabel:{show:false, customValues:p.yM},
    splitLine:{show:true, lineStyle:{color:'#F3F3F3', width:0.8}}});

  option.series.push({type:'scatter', xAxisIndex:2*i, yAxisIndex:2*i, data:p.pts,
    encode:{x:0, y:1}, symbolSize:2.2, itemStyle:{opacity:0.65}, silent:true, z:2});
  option.series.push({type:'line', xAxisIndex:2*i, yAxisIndex:2*i, data:p.smooth,
    showSymbol:false, symbol:'none', smooth:0.3, silent:true, z:3,
    lineStyle:{color:'#FF0000', width:1}});
  option.visualMap.push({type:'continuous', seriesIndex:2*i, dimension:2,
    min:p.cR[0], max:p.cR[1], orient:'horizontal', left:X(p.cb.l), top:504,
    itemWidth:4.5, itemHeight:X(p.cb.r - p.cb.l), calculable:false, text:null, showLabel:false,
    padding:0, hoverLink:false, inRange:{color:COLORS}});
});

// colour-bar tick axes
panels.forEach((p, i) => {
  option.grid.push({left:X(p.cb.l), top:504, width:X(p.cb.r - p.cb.l), height:4.5, show:false});
  option.xAxis.push({type:'value', gridIndex:3+i, min:p.cR[0], max:p.cR[1], position:'bottom', z:10,
    axisLine:{show:false, onZero:false},
    axisTick:{show:true, inside:true, length:4.5, customValues:p.cT, lineStyle:{color:'#fff', width:1}},
    axisLabel:{customValues:p.cT, fontSize:7.5, color:'#333', margin:5, fontFamily:FONT},
    splitLine:{show:false}});
  option.yAxis.push({type:'value', gridIndex:3+i, min:0, max:1, show:false});
});

const chart = echarts.init(document.getElementById('c'), null, {renderer:'canvas'});
chart.setOption(option);
</script>
</body></html>
